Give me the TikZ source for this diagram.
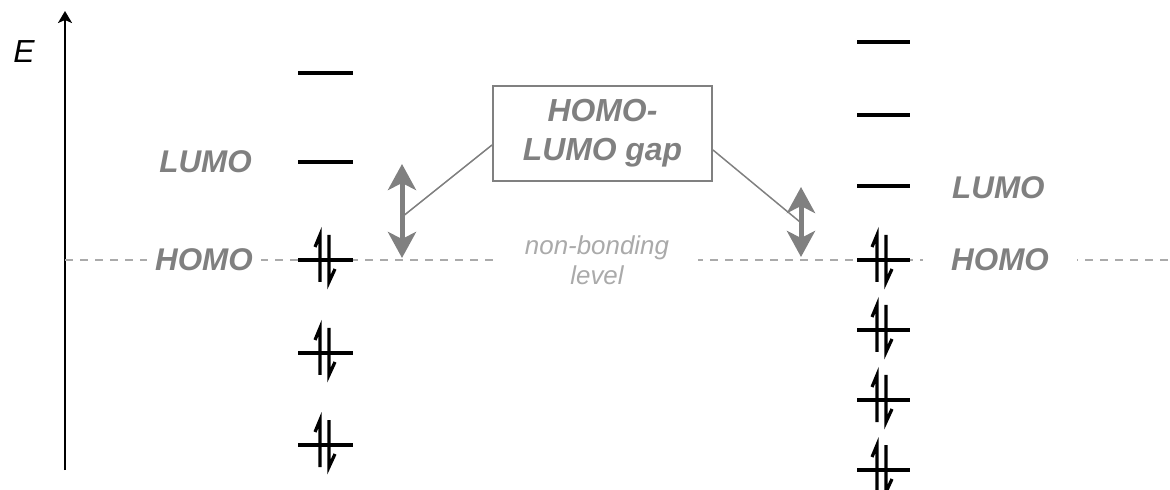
\documentclass[tikz,border=0pt]{standalone}
\usepackage{fontspec}
\setmainfont{Liberation Sans}
\usetikzlibrary{arrows.meta, positioning}
\definecolor{cLbl}{RGB}{128,128,128}
\definecolor{cDash}{RGB}{170,170,170}

\begin{document}
\begin{tikzpicture}[x=1bp, y=-1bp,
      lvl/.style={line width=3.2bp},
      lbl/.style={font=\fontsize{31.5}{37}\selectfont\bfseries\itshape, text=cLbl,
                  fill=white, inner sep=8bp},
      sm/.style={font=\fontsize{26}{30}\selectfont\itshape, text=cDash, align=center,
                 fill=white, inner xsep=29bp, inner ysep=2bp},
      gar/.style={line width=5bp, cLbl,
                  {Stealth[length=26bp,width=28bp,inset=7bp]}-{Stealth[length=26bp,width=28bp,inset=7bp]}},
      ln/.style={line width=1.5bp, cLbl},
      pair/.pic={
        \draw[lvl] (-5,22) -- (-5,-25) -- (-10,-13);
        \draw[lvl] (4,-25) -- (4,22) -- (10,9);
      }
    ]
    \useasboundingbox (0,0) rectangle (1170,490);

    % energy axis
    \coordinate (ebot) at (65,470);
    \coordinate (etop) at (65,11);
    \draw[line width=2bp, -{Stealth[length=12bp,width=14bp,inset=3bp]}] (ebot) -- (etop);
    \node[font=\fontsize{32}{38}\selectfont\itshape] (E) at (24,52) {E};

    % non-bonding level
    \coordinate (base-l) at (65,260);
    \coordinate (base-r) at (1170,260);
    \draw[cDash, line width=2bp, dash pattern=on 8bp off 7bp] (base-l) -- (base-r);
    \node[sm] (nb) at (597,260) {non-bonding\\level};

    % left molecule
    \foreach \y in {73,162,260,353,445}
      \draw[lvl] (298,\y) -- (353,\y);
    \foreach \y in {260,353,445}
      \pic at (325,\y) {pair};
    \node[lbl, anchor=east] (lumo-l) at (260,162) {LUMO};
    \node[lbl, anchor=east] (homo-l) at (261,260) {HOMO};

    % right molecule
    \foreach \y in {42,115,186,260,330,400,470}
      \draw[lvl] (857,\y) -- (910,\y);
    \foreach \y in {260,330,400,470}
      \pic at (882,\y) {pair};
    \node[lbl, anchor=west] (lumo-r) at (944,188) {LUMO};
    \node[lbl, anchor=center, inner xsep=28bp] (homo-r) at (1000,260) {HOMO};

    % gaps
    \coordinate (gl-top) at (402,164);
    \coordinate (gl-bot) at (402,258);
    \coordinate (gl-mid) at (402,217);
    \coordinate (gr-top) at (801,187);
    \coordinate (gr-bot) at (801,257);
    \coordinate (gr-mid) at (800,222);
    \draw[gar] (gl-bot) -- (gl-top);
    \draw[gar] (gr-bot) -- (gr-top);

    \node[draw=cLbl, line width=2bp, minimum width=219bp, minimum height=95bp, align=center,
          font=\fontsize{32}{39}\selectfont\bfseries\itshape, text=cLbl] (gap) at (602.5,133.5)
          {HOMO-\\LUMO gap};
    \draw[ln] (gl-mid) -- ([yshift=-11.5bp]gap.west);
    \draw[ln] (gr-mid) -- ([yshift=-16.5bp]gap.east);
  \end{tikzpicture}
\end{document}
